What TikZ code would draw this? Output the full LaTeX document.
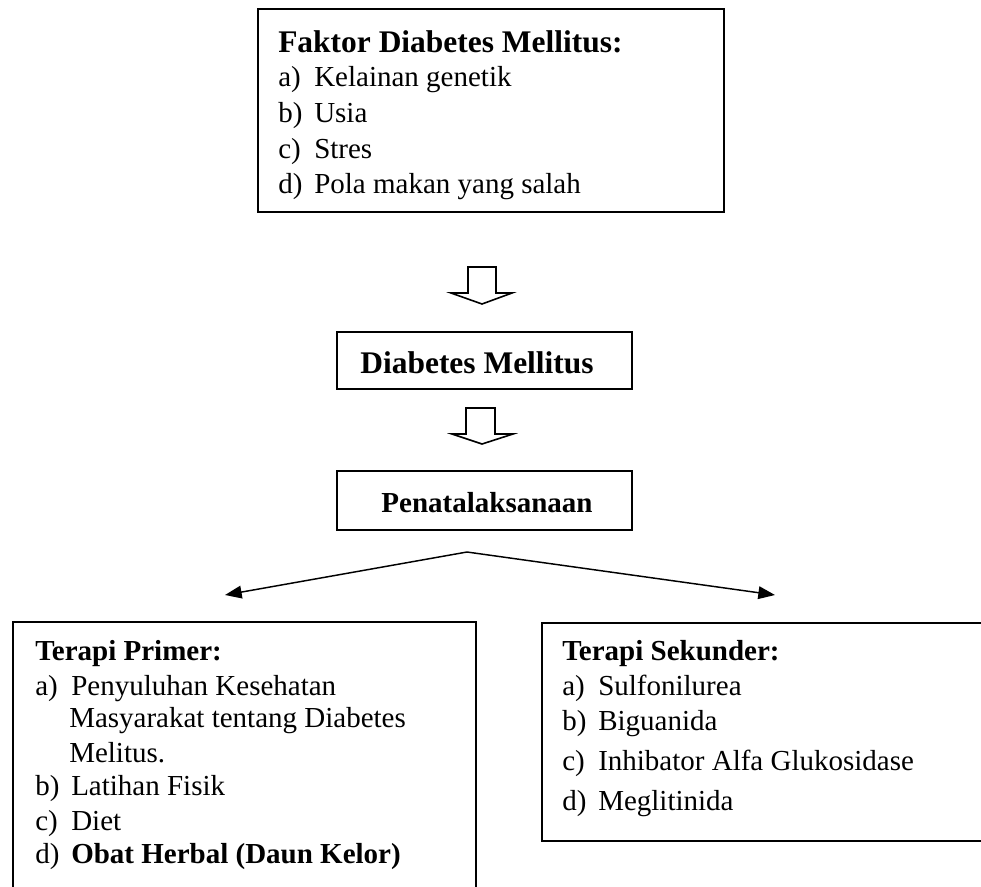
\documentclass[tikz,border=0pt]{standalone}
\usepackage{fontspec}
\setmainfont{Liberation Serif}
\usetikzlibrary{arrows.meta,fit}
\newcommand\itemlbl[1]{\makebox[27pt][l]{#1}}
\begin{document}
\begin{tikzpicture}[x=0.75pt,y=-0.75pt,
  boxline/.style={draw=black,line width=1.4pt,inner sep=0pt},
  txt/.style={anchor=base west,inner sep=0pt,font=\fontsize{21.75}{26}\selectfont},
  ttl/.style={anchor=base west,inner sep=0pt,font=\fontsize{21.75}{26}\selectfont\bfseries},
  bigttl/.style={inner sep=0pt,font=\fontsize{23.6}{28}\selectfont\bfseries},
  blockarrow/.style={draw=black,line width=1.2pt,fill=white,line join=miter},
  fork/.style={draw=black,line width=1.1pt,-{Triangle[length=12.5pt,width=9.5pt]}}]
\useasboundingbox (0,0) rectangle (981,886);
\clip (0,0) rectangle (981,886);
\fill[white] (0,0) rectangle (981,886);

% boxes
\node[boxline,fit={(258,9) (724,212)}] (faktor) {};
\node[boxline,fit={(337,332) (632,389)}] (dm) {};
\node[boxline,fit={(337,471) (632,530)}] (pen) {};
\node[boxline,fit={(13,622) (476,910)}] (primer) {};
\node[boxline,fit={(542,623) (1000,841)}] (sekunder) {};

% top box text
\node[bigttl,anchor=base west] (t0) at (278,52) {Faktor Diabetes Mellitus:};
\node[txt] (t1) at (278,86) {\itemlbl{a)}Kelainan genetik};
\node[txt] (t2) at (278,122) {\itemlbl{b)}Usia};
\node[txt] (t3) at (278,158) {\itemlbl{c)}Stres};
\node[txt] (t4) at (278,193) {\itemlbl{d)}Pola makan yang salah};

% middle
\node[bigttl,anchor=base] (dmtext) at (477,373) {Diabetes Mellitus};
\node[bigttl,font=\fontsize{21.75}{26}\selectfont\bfseries,anchor=base] (pentext) at (487,512) {Penatalaksanaan};

% block arrows
\draw[blockarrow] (468,267) -- (496,267) -- (496,293) -- (512,293) -- (482,304) -- (451,293) -- (468,293) -- cycle;
\draw[blockarrow] (466,408) -- (495,408) -- (495,434) -- (513,434) -- (482,444) -- (452,434) -- (466,434) -- cycle;

% fork
\coordinate (apex) at (467,552);
\coordinate (tipl) at (225,595);
\coordinate (tipr) at (775,595);
\draw[fork] (apex) -- (tipl);
\draw[fork] (apex) -- (tipr);

% left box text
\node[ttl] (p0) at (35,660) {Terapi Primer:};
\node[txt] (p1) at (35,695) {\itemlbl{a)}Penyuluhan Kesehatan};
\node[txt] (p1b) at (69,727) {Masyarakat tentang Diabetes};
\node[txt] (p1c) at (69,762) {Melitus.};
\node[txt] (p2) at (35,795) {\itemlbl{b)}Latihan Fisik};
\node[txt] (p3) at (35,830) {\itemlbl{c)}Diet};
\node[txt] (p4) at (35,863) {\itemlbl{d)}\textbf{Obat Herbal (Daun Kelor)}};

% right box text
\node[ttl] (s0) at (562,660) {Terapi Sekunder:};
\node[txt] (s1) at (562,695) {\itemlbl{a)}Sulfonilurea};
\node[txt] (s2) at (562,730) {\itemlbl{b)}Biguanida};
\node[txt] (s3) at (562,770) {\itemlbl{c)}Inhibator Alfa Glukosidase};
\node[txt] (s4) at (562,810) {\itemlbl{d)}Meglitinida};
\end{tikzpicture}
\end{document}
